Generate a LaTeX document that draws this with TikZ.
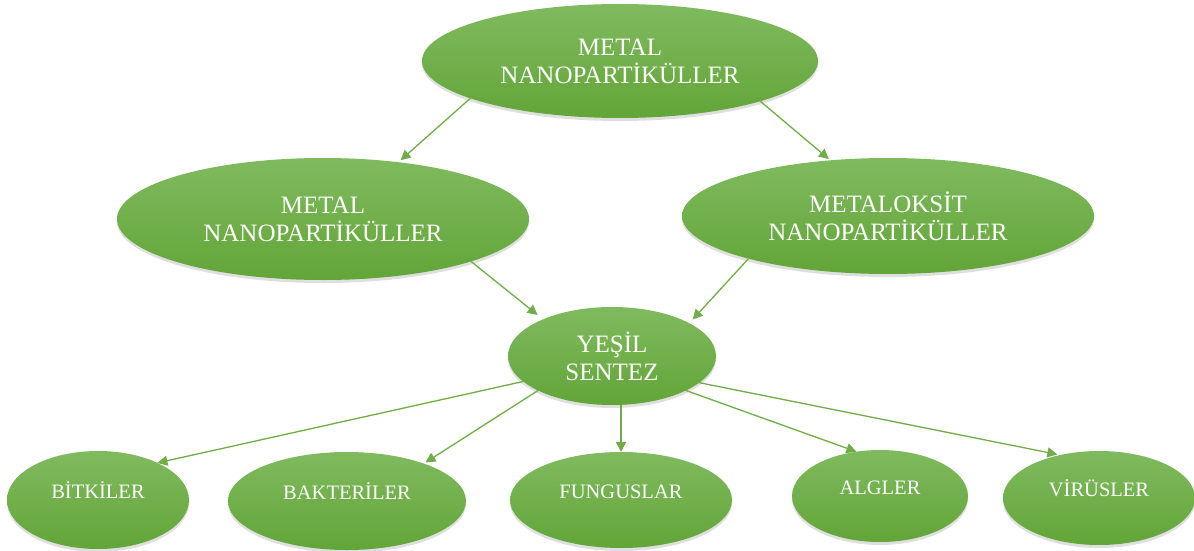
\documentclass[tikz,border=0pt]{standalone}
\usepackage{fontspec}
\setmainfont{Liberation Serif}
\usetikzlibrary{positioning,arrows.meta,shapes,shadows}
\definecolor{leafhi}{RGB}{128,186,95}
\definecolor{leaflo}{RGB}{98,165,56}
\definecolor{linkgreen}{RGB}{112,173,71}

\begin{document}
\begin{tikzpicture}[
            x=1pt, y=-1pt,
            bubble/.style={ellipse, top color=leafhi, bottom color=leaflo, text=white, inner sep=0pt, outer sep=0pt, align=center, font=\fontsize{25}{28}\selectfont, drop shadow={opacity=0.25, shadow xshift=0pt, shadow yshift=-3pt}},
            leaf/.style={bubble, font=\fontsize{20.5}{24}\selectfont, text height=14pt, text depth=17pt},
            arrow/.style={-{Triangle[length=10pt,width=10pt]}, linkgreen, line width=1.3pt}
        ]
        \useasboundingbox (0,0) rectangle (1194,551);

        \node[bubble, minimum width=396pt, minimum height=114pt] (metal) at (620,61) {METAL\\NANOPARTİKÜLLER};
        \node[bubble, minimum width=412pt, minimum height=122pt] (metnp) at (323,219) {METAL\\NANOPARTİKÜLLER};
        \node[bubble, minimum width=412pt, minimum height=116pt] (oksnp) at (888,216) {METALOKSİT\\NANOPARTİKÜLLER};
        \node[bubble, minimum width=208pt, minimum height=98pt] (sentez) at (612,356) {YEŞİL\\SENTEZ};

        \node[leaf, minimum width=182pt, minimum height=98pt] (bitki) at (98,500) {BİTKİLER};
        \node[leaf, minimum width=238pt, minimum height=98pt] (bakteri) at (347,501) {BAKTERİLER};
        \node[leaf, minimum width=222pt, minimum height=96pt] (fungus) at (621,500) {FUNGUSLAR};
        \node[leaf, minimum width=176pt, minimum height=92pt] (alg) at (880,496) {ALGLER};
        \node[leaf, minimum width=192pt, minimum height=94pt] (virus) at (1099,498) {VİRÜSLER};

        \draw[arrow, shorten >=3pt] (metal.194) -- (metnp.37);
        \draw[arrow, shorten >=2pt] (metal.344) -- (oksnp.136);
        \draw[arrow, shorten >=7pt] (metnp.344) -- (sentez.152);
        \draw[arrow, shorten >=5pt] (oksnp.197) -- (sentez.23);
        \draw[arrow] (sentez.196) -- (bitki.32);
        \draw[arrow, shorten >=2pt] (sentez.205) -- (bakteri.26);
        \draw[arrow] (sentez.south -| fungus.north) -- (fungus.north);
        \draw[arrow] (sentez.335) -- (alg.118);
        \draw[arrow, shorten >=3pt] (sentez.343) -- (virus.132);
        \end{tikzpicture}
\end{document}
